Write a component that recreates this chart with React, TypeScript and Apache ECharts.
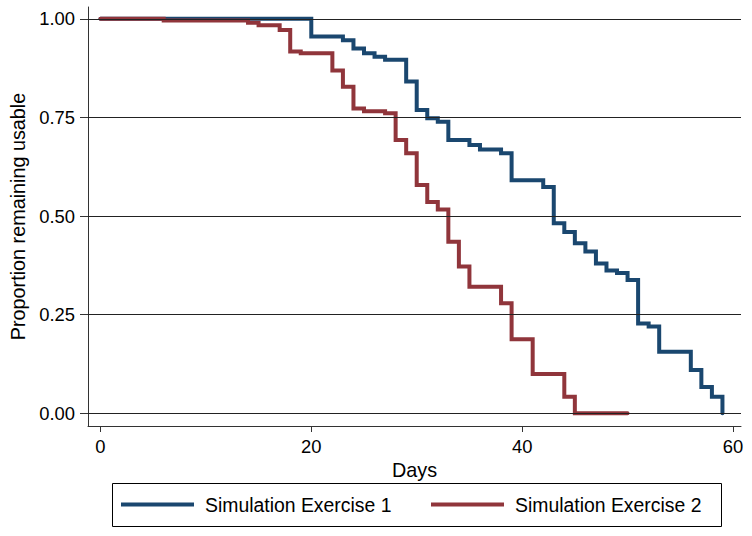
import React, { useEffect, useRef } from "react";
import * as echarts from "echarts";

const seriesNames = ["Simulation Exercise 1", "Simulation Exercise 2"];
const days1 = [0, 20, 23, 24, 25, 26, 27, 29, 30, 31, 32, 33, 35, 36, 38, 39, 42, 43, 44, 45, 46, 47, 48, 49, 50, 51, 52, 53, 56, 57, 58, 59];
const surv1 = [1, 0.955, 0.946, 0.925, 0.913, 0.904, 0.896, 0.841, 0.769, 0.748, 0.739, 0.693, 0.68, 0.669, 0.659, 0.591, 0.574, 0.482, 0.46, 0.431, 0.41, 0.38, 0.362, 0.356, 0.338, 0.228, 0.22, 0.156, 0.11, 0.067, 0.042, 0];
const days2 = [0, 6, 14, 15, 17, 18, 19, 22, 23, 24, 25, 27, 28, 29, 30, 31, 32, 33, 34, 35, 38, 39, 41, 44, 45, 50];
const surv2 = [1, 0.996, 0.99, 0.984, 0.972, 0.917, 0.913, 0.869, 0.828, 0.773, 0.766, 0.761, 0.693, 0.659, 0.579, 0.536, 0.517, 0.435, 0.372, 0.321, 0.279, 0.188, 0.1, 0.042, 0, 0];
const xTicks = [0, 20, 40, 60];
const yTicks = [0, 0.25, 0.5, 0.75, 1];
const colors = ["#1a476f", "#90353b"];

const FONT = "'Liberation Sans', Arial, sans-serif";

export default function App() {
  const ref = useRef<HTMLDivElement>(null);
  useEffect(() => {
    if (!ref.current) return;
    const chart = echarts.init(ref.current, undefined, { renderer: "svg" });
    const legendCommon = {
      orient: "horizontal",
      padding: 0,
      itemWidth: 73,
      itemHeight: 4,
      icon: "rect",
      top: 495,
      selectedMode: false,
      textStyle: { fontSize: 19.4, fontFamily: FONT, color: "#000", padding: [0, 0, 0, 6] },
    };
    chart.setOption({
      animation: false,
      backgroundColor: "#fff",
      textStyle: { fontFamily: FONT },
      grid: { left: 86, top: 7, right: 11, bottom: 110, containLabel: false },
      graphic: [
        {
          type: "rect",
          shape: { x: 112.5, y: 483.5, width: 609, height: 43 },
          style: { fill: "#fff", stroke: "#000", lineWidth: 1 },
          z: 0,
        },
      ],
      legend: [
        { ...legendCommon, left: 121, data: [seriesNames[0]] },
        { ...legendCommon, left: 431, data: [seriesNames[1]] },
      ],
      xAxis: {
        type: "value",
        min: -1.18,
        max: 60.76,
        name: "Days",
        nameLocation: "middle",
        nameGap: 32,
        nameTextStyle: { fontSize: 19.8, color: "#000", fontFamily: FONT },
        axisLine: { show: true, onZero: false, lineStyle: { color: "#333", width: 1 } },
        axisTick: { show: true, inside: false, length: 6, customValues: xTicks, lineStyle: { color: "#333" } },
        axisLabel: { customValues: xTicks, fontSize: 18.4, color: "#000", margin: 11, fontFamily: FONT },
        splitLine: { show: false },
      },
      yAxis: {
        type: "value",
        min: -0.032,
        max: 1.03,
        name: "Proportion remaining usable",
        nameLocation: "middle",
        nameGap: 60,
        nameTextStyle: { fontSize: 19.8, color: "#000", fontFamily: FONT },
        axisLine: { show: true, onZero: false, lineStyle: { color: "#333", width: 1 } },
        axisTick: { show: true, inside: false, length: 8, customValues: yTicks, lineStyle: { color: "#333" } },
        axisLabel: {
          customValues: yTicks,
          fontSize: 18.4,
          color: "#000",
          margin: 13,
          fontFamily: FONT,
          formatter: (v: number) => v.toFixed(2),
        },
        splitLine: { show: false },
      },
      series: [
        {
          name: "gridlines",
          type: "line",
          data: [],
          z: 1,
          silent: true,
          markLine: {
            silent: true,
            symbol: ["none", "none"],
            label: { show: false },
            lineStyle: { color: "#222", width: 1, type: "solid" },
            data: yTicks.map((v) => ({ yAxis: v })),
          },
        },
        {
          name: seriesNames[0],
          type: "line",
          step: "end",
          z: 3,
          symbol: "none",
          color: colors[0],
          lineStyle: { color: colors[0], width: 4, cap: "round", join: "miter" },
          data: days1.map((d, i) => [d, surv1[i]]),
        },
        {
          name: seriesNames[1],
          type: "line",
          step: "end",
          z: 4,
          symbol: "none",
          color: colors[1],
          lineStyle: { color: colors[1], width: 4, cap: "round", join: "miter" },
          data: days2.map((d, i) => [d, surv2[i]]),
        },
      ],
    });
    return () => chart.dispose();
  }, []);
  return (
    <div
      ref={ref}
      style={{ position: "fixed", left: 0, top: 0, width: 752, height: 536, background: "#fff" }}
    />
  );
}
